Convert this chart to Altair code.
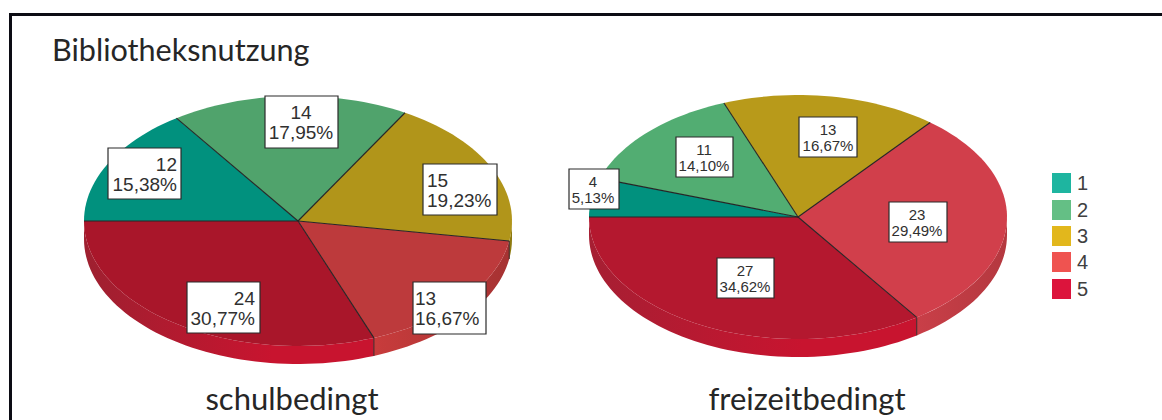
import math
import altair as alt
import pandas as pd

# Survey counts per answer category, one list per pie
categories = ["1", "2", "3", "4", "5"]
counts_school = [12, 14, 15, 13, 24]
counts_leisure = [4, 11, 13, 23, 27]
pie_names = ["schulbedingt", "freizeitbedingt"]
chart_title = "Bibliotheksnutzung"

# Top-face colours of each pie and the brighter legend swatches
top_school = ["#01917e", "#50a36c", "#b1951a", "#bd3a3c", "#a9162a"]
top_leisure = ["#01917e", "#52ad72", "#b89a1a", "#d13f4b", "#b4182f"]
swatches = ["#1eb5a0", "#64bf85", "#e2b71c", "#ef5350", "#dc143c"]

W, H = 1162, 420
X = alt.Scale(domain=[0, W], range=[0, W], nice=False, zero=False)
Y = alt.Scale(domain=[0, H], range=[0, H], nice=False, zero=False)
X_ENC = dict(scale=X, axis=None)
Y_ENC = dict(scale=Y, axis=None)

# Pie geometry: centre, radii of the tilted ellipse, height of the rim
PIES = [
    dict(name=pie_names[0], counts=counts_school, top=top_school, cx=298, cy=221, rx=214, ry=125, depth=18,
         rim={2: ("#93800f", "#8a760e"), 3: ("#c83c3c", "#a63232"), 4: ("#9e2030", "#c8142f")}),
    dict(name=pie_names[1], counts=counts_leisure, top=top_leisure, cx=798, cy=217, rx=209, ry=122, depth=18,
         rim={3: ("#c93f48", "#b4383f"), 4: ("#a61f33", "#c8142f")}),
]


def rim_point(pie, deg):
    # Slices run clockwise starting from the left-hand end of the ellipse
    a = math.radians(deg)
    return pie["cx"] - pie["rx"] * math.cos(a), pie["cy"] - pie["ry"] * math.sin(a)


wedge_rows, rim_layers, spoke_rows, drop_rows = [], [], [], []
for p_i, pie in enumerate(PIES):
    total = sum(pie["counts"])
    start = 0.0
    for s_i, n in enumerate(pie["counts"]):
        end = start + 360.0 * n / total
        steps = max(2, int((end - start) / 2))
        angles = [start + (end - start) * k / steps for k in range(steps + 1)]
        wedge_id = f"{p_i}-{s_i}"
        wedge_rows.append(dict(id=wedge_id, k=-1, x=pie["cx"], y=pie["cy"], fill=pie["top"][s_i]))
        for k, deg in enumerate(angles):
            px, py = rim_point(pie, deg)
            wedge_rows.append(dict(id=wedge_id, k=k, x=px, y=py, fill=pie["top"][s_i]))

        # Visible rim: the part of the slice lying below the horizontal axis
        if s_i in pie["rim"]:
            lo, hi = max(start, 180.0), min(end, 360.0)
            steps = max(2, int((hi - lo) / 2))
            rows = []
            for k in range(steps + 1):
                px, py = rim_point(pie, lo + (hi - lo) * k / steps)
                rows.append(dict(x=px, y=py, y2=py + pie["depth"]))
            c0, c1 = pie["rim"][s_i]
            # The largest slice reaches its full brightness before the front of the pie
            turn = 0.65 if s_i == 4 else 1
            rim_layers.append(
                alt.Chart(pd.DataFrame(rows))
                .mark_area(
                    color=alt.LinearGradient(
                        gradient="linear", x1=0, x2=1, y1=0, y2=0,
                        stops=[alt.GradientStop(offset=0, color=c0),
                               alt.GradientStop(offset=turn, color=c1),
                               alt.GradientStop(offset=1, color=c1)],
                    )
                )
                .encode(x=alt.X("x:Q", **X_ENC), y=alt.Y("y:Q", **Y_ENC), y2="y2:Q")
            )
            if 180.0 < end < 360.0:
                px, py = rim_point(pie, end)
                drop_rows.append(dict(x=px, y=py, y2=py + pie["depth"]))

        px, py = rim_point(pie, start)
        spoke_rows.append(dict(x=pie["cx"], y=pie["cy"], x2=px, y2=py))
        start = end

wedges = (
    alt.Chart(pd.DataFrame(wedge_rows))
    .mark_line(strokeWidth=0)
    .encode(
        x=alt.X("x:Q", **X_ENC),
        y=alt.Y("y:Q", **Y_ENC),
        fill=alt.Fill("fill:N", scale=None),
        detail="id:N",
        order="k:Q",
    )
)

spokes = (
    alt.Chart(pd.DataFrame(spoke_rows))
    .mark_rule(color="#262626", strokeWidth=1.1)
    .encode(x=alt.X("x:Q", **X_ENC), y=alt.Y("y:Q", **Y_ENC), x2="x2:Q", y2="y2:Q")
)
drops = (
    alt.Chart(pd.DataFrame(drop_rows))
    .mark_rule(color="#3a2a2a", strokeWidth=1)
    .encode(x=alt.X("x:Q", **X_ENC), y=alt.Y("y:Q", **Y_ENC), y2="y2:Q")
)

# Label boxes: left, right, top, bottom, text anchor and alignment per slice
school_boxes = [
    (108, 181, 148, 199, 177, "right"),
    (265, 338, 96, 148, 301, "center"),
    (423, 497, 164, 215, 427, "left"),
    (413, 486, 282, 334, 415, "left"),
    (187, 260, 282, 333, 255, "right"),
]
leisure_boxes = [
    (569, 619, 169, 209, 593, "center"),
    (676, 733, 137, 177, 704, "center"),
    (799, 857, 117, 157, 828, "center"),
    (889, 947, 202, 242, 917, "center"),
    (717, 774, 258, 298, 745, "center"),
]


def percent_text(n, total):
    return f"{100 * n / total:.2f}%".replace(".", ",")


box_rows, text_rows = [], []
for pie, boxes, size, gap in ((PIES[0], school_boxes, 19, 20), (PIES[1], leisure_boxes, 15, 16)):
    total = sum(pie["counts"])
    for n, (l, r, t, b, anchor, align) in zip(pie["counts"], boxes):
        box_rows.append(dict(x=l, x2=r, y=t, y2=b))
        mid = (t + b) / 2
        text_rows.append(dict(x=anchor, y=mid - gap / 2 + 1, text=str(n), align=align, size=size))
        text_rows.append(dict(x=anchor, y=mid + gap / 2 + 1, text=percent_text(n, total), align=align, size=size))

boxes_layer = (
    alt.Chart(pd.DataFrame(box_rows))
    .mark_rect(fill="white", stroke="#2b2b2b", strokeWidth=1.2)
    .encode(x=alt.X("x:Q", **X_ENC), x2="x2:Q", y=alt.Y("y:Q", **Y_ENC), y2="y2:Q")
)

text_df = pd.DataFrame(text_rows)
label_layers = [
    alt.Chart(text_df[text_df["align"] == a])
    .mark_text(align=a, baseline="middle", font="Liberation Sans", color="#303030")
    .encode(
        x=alt.X("x:Q", **X_ENC),
        y=alt.Y("y:Q", **Y_ENC),
        text="text:N",
        size=alt.Size("size:Q", scale=None),
    )
    for a in ("left", "center", "right")
]

# Captions under the pies and the chart heading
captions = pd.DataFrame(
    [
        dict(x=52, y=61, text=chart_title, align="left"),
        dict(x=292, y=410, text=pie_names[0], align="center"),
        dict(x=807, y=410, text=pie_names[1], align="center"),
    ]
)
caption_layers = [
    alt.Chart(captions[captions["align"] == a])
    .mark_text(align=a, baseline="alphabetic", font="Lato", fontSize=fs, color="#262626")
    .encode(x=alt.X("x:Q", **X_ENC), y=alt.Y("y:Q", **Y_ENC), text="text:N")
    for a, fs in (("left", 30.6), ("center", 31))
]

# Hand-placed legend on the right
legend_tops = [173, 200, 226, 252, 279]
legend_df = pd.DataFrame(
    dict(cat=categories, fill=swatches, y=legend_tops, y2=[v + 20 for v in legend_tops],
         x=[1052] * 5, x2=[1071] * 5, tx=[1077] * 5, ty=[v + 11 for v in legend_tops])
)
legend_marks = (
    alt.Chart(legend_df)
    .mark_rect()
    .encode(x=alt.X("x:Q", **X_ENC), x2="x2:Q", y=alt.Y("y:Q", **Y_ENC), y2="y2:Q",
            fill=alt.Fill("fill:N", scale=None))
)
legend_text = (
    alt.Chart(legend_df)
    .mark_text(align="left", baseline="middle", font="Liberation Sans", fontSize=20, color="#404040")
    .encode(x=alt.X("tx:Q", **X_ENC), y=alt.Y("ty:Q", **Y_ENC), text="cat:N")
)

# Heavy frame open towards the right and bottom edges
frame_df = pd.DataFrame(
    [dict(x=10.5, x2=10.5, y=14, y2=H), dict(x=9, x2=W, y=14.5, y2=14.5)]
)
frame = (
    alt.Chart(frame_df)
    .mark_rule(color="#0c0c14", strokeWidth=3)
    .encode(x=alt.X("x:Q", **X_ENC), x2="x2:Q", y=alt.Y("y:Q", **Y_ENC), y2="y2:Q")
)

chart = (
    alt.layer(
        frame,
        *rim_layers,
        wedges,
        drops,
        spokes,
        boxes_layer,
        *label_layers,
        *caption_layers,
        legend_marks,
        legend_text,
    )
    .resolve_scale(x="shared", y="shared")
    .properties(width=W, height=H, padding=0, autosize=alt.AutoSizeParams(type="none"), background="white")
    .configure_view(stroke=None)
)

chart.save("out.html", embed_options={"renderer": "svg", "actions": False})
